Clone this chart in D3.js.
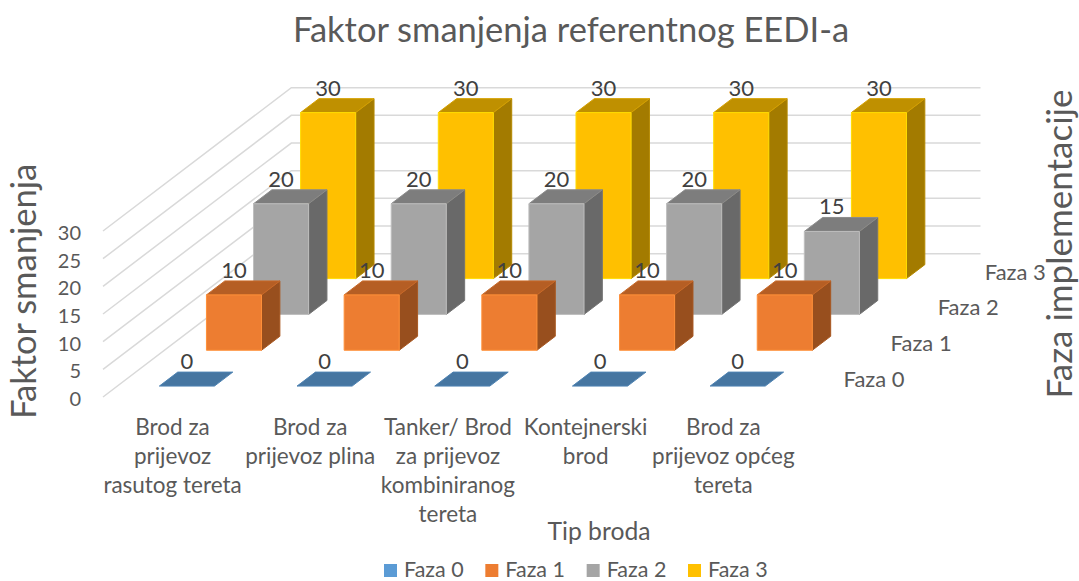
<!DOCTYPE html>
<html>
<head>
<meta charset="utf-8">
<script src="https://d3js.org/d3.v7.min.js"></script>
<style>
html, body { margin: 0; padding: 0; background: #fff; overflow: hidden; }
text { font-family: Lato, "Open Sans", sans-serif; fill: #595959; }
</style>
</head>
<body>
<div id="main_div"></div>
<script>
var title = "Faktor smanjenja referentnog EEDI-a";
var categories = [
    ["Brod za", "prijevoz", "rasutog tereta"],
    ["Brod za", "prijevoz plina"],
    ["Tanker/ Brod", "za prijevoz", "kombiniranog", "tereta"],
    ["Kontejnerski", "brod"],
    ["Brod za", "prijevoz općeg", "tereta"]
];
var seriesNames = ["Faza 0", "Faza 1", "Faza 2", "Faza 3"];
var faza0 = [0, 0, 0, 0, 0];
var faza1 = [10, 10, 10, 10, 10];
var faza2 = [20, 20, 20, 20, 15];
var faza3 = [30, 30, 30, 30, 30];
var yTicks = [0, 5, 10, 15, 20, 25, 30];

var frontColors = ["#5B9BD5", "#ED7D31", "#A5A5A5", "#FFC000"];
var topColors = ["#4676A1", "#B55E24", "#7D7D7D", "#BF9000"];
var sideColors = ["#3A6285", "#984F1E", "#696969", "#A37B00"];

var values = [faza0, faza1, faza2, faza3];
var width = 1079, height = 581;

var svg = d3.select("#main_div").append("svg")
    .attr("width", width)
    .attr("height", height)
    .style("display", "block");

// category axis runs along the front edge of the floor
var x = d3.scaleBand().domain(d3.range(categories.length))
    .range([103.7, 792.2]).paddingInner(0.6).paddingOuter(0.3);
// depth axis goes back into the picture, one slot per series
var z = d3.scaleBand().domain(d3.range(seriesNames.length))
    .range([0, 188.3]).paddingInner(0.61).paddingOuter(0.305);
var y = d3.scaleLinear().domain([0, 30]).range([397, 231]);

var skew = 0.761;
function pt(px, depth, v) {
    return [px + depth, y(v) - depth * skew];
}
var line = d3.line();
function face(points) { return line(points) + "Z"; }

// grid on side wall and back wall
var zMax = z.range()[1], xMax = x.range()[1], wallLeft = x.range()[0] - 0.7;
var grid = svg.append("g").attr("fill", "none").attr("stroke", "#d9d9d9").attr("stroke-width", 1.5);
grid.selectAll("path").data(yTicks).enter().append("path")
    .attr("d", function(t) {
        return line([pt(wallLeft, 0, t), pt(wallLeft, zMax, t), pt(xMax, zMax, t)]);
    });

// bars, back row first
var bars = svg.append("g");
d3.range(seriesNames.length).reverse().forEach(function(s) {
    values[s].forEach(function(v, i) {
        var x0 = x(i), x1 = x(i) + x.bandwidth();
        var z0 = z(s), z1 = z(s) + z.bandwidth();
        var g = bars.append("g").attr("stroke-width", 1).attr("stroke-linejoin", "round");
        if (v > 0) {
            g.append("path")
                .attr("d", face([pt(x1, z0, 0), pt(x1, z1, 0), pt(x1, z1, v), pt(x1, z0, v)]))
                .attr("fill", sideColors[s]).attr("stroke", d3.color(sideColors[s]).brighter(0.3));
        }
        g.append("path")
            .attr("d", face([pt(x0, z0, v), pt(x1, z0, v), pt(x1, z1, v), pt(x0, z1, v)]))
            .attr("fill", topColors[s]).attr("stroke", d3.color(topColors[s]).brighter(0.3));
        if (v > 0) {
            g.append("path")
                .attr("d", face([pt(x0, z0, 0), pt(x1, z0, 0), pt(x1, z0, v), pt(x0, z0, v)]))
                .attr("fill", frontColors[s]).attr("stroke", d3.color(frontColors[s]).brighter(0.4));
        }
    });
});

// data labels over the bars
var labels = svg.append("g").attr("text-anchor", "middle").style("font-size", "22px");
d3.range(seriesNames.length).forEach(function(s) {
    values[s].forEach(function(v, i) {
        var p = pt(x(i) + x.bandwidth() / 2, z(s) + z.bandwidth() / 2, v);
        labels.append("text")
            .attr("x", p[0] - z.bandwidth() / 2)
            .attr("y", p[1] - 10)
            .style("fill", "#404040")
            .text(v);
    });
});

// value axis
var yAxis = svg.append("g")
    .attr("transform", "translate(81,2)")
    .call(d3.axisLeft(y).tickValues(yTicks).tickSize(0).tickPadding(0));
yAxis.select(".domain").remove();
yAxis.selectAll("text").style("font-size", "20px").style("font-family", "Lato").style("fill", "#595959");

// category labels
categories.forEach(function(lines, i) {
    var t = svg.append("text")
        .attr("text-anchor", "middle")
        .style("font-size", "22.5px");
    lines.forEach(function(l, j) {
        t.append("tspan")
            .attr("x", x(i) + x.bandwidth() / 2)
            .attr("y", 435 + j * 29)
            .text(l);
    });
});

// series labels on the depth axis
svg.append("g").selectAll("text").data(seriesNames).enter().append("text")
    .attr("x", function(d, s) { return 820 + z(s) + z.bandwidth() / 2; })
    .attr("y", function(d, s) { return y(0) - (z(s) + z.bandwidth() / 2) * skew + 8; })
    .style("font-size", "22px")
    .text(function(d) { return d; });

// titles
svg.append("text").attr("x", 571).attr("y", 42).attr("text-anchor", "middle")
    .style("font-size", "34.5px").text(title);
svg.append("text").attr("x", 599).attr("y", 540).attr("text-anchor", "middle")
    .style("font-size", "24.7px").text("Tip broda");
svg.append("text").attr("transform", "translate(36,291.5) rotate(-90)").attr("text-anchor", "middle")
    .style("font-size", "34.5px").text("Faktor smanjenja");
svg.append("text").attr("transform", "translate(1072,244) rotate(-90)").attr("text-anchor", "middle")
    .style("font-size", "35px").text("Faza implementacije");

// legend
var legendX = d3.scalePoint().domain(seriesNames).range([384, 688]);
var legend = svg.append("g").selectAll("g").data(seriesNames).enter().append("g")
    .attr("transform", function(d) { return "translate(" + legendX(d) + ",564)"; });
legend.append("rect").attr("width", 13).attr("height", 13)
    .attr("fill", function(d, i) { return frontColors[i]; });
legend.append("text").attr("x", 20).attr("y", 13)
    .style("font-size", "21.5px")
    .text(function(d) { return d; });
</script>
</body>
</html>
